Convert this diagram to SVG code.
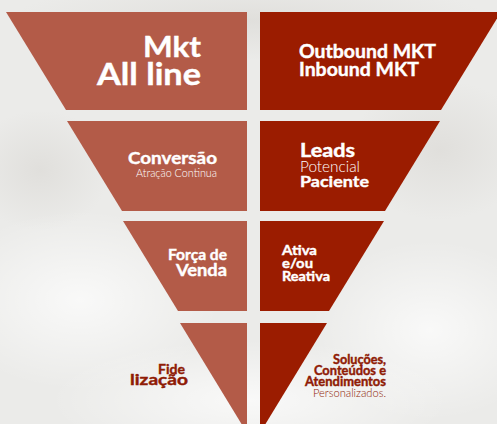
<svg xmlns="http://www.w3.org/2000/svg" width="497" height="424" viewBox="0 0 497 424">
<defs>
<radialGradient id="c1" cx="0.5" cy="0.5" r="0.5"><stop offset="0" stop-color="#ffffff" stop-opacity="0.7"/><stop offset="1" stop-color="#ffffff" stop-opacity="0"/></radialGradient>
<radialGradient id="c2" cx="0.5" cy="0.5" r="0.5"><stop offset="0" stop-color="#d9d7d3" stop-opacity="0.6"/><stop offset="1" stop-color="#d9d7d3" stop-opacity="0"/></radialGradient>
</defs>
<style>
.l{fill:#b35b48}
.r{fill:#9b1c00}
.t{font-family:Lato,"Open Sans","DejaVu Sans",sans-serif;fill:#ffffff;stroke:#ffffff;stroke-width:0.4;font-weight:700}
.lt{font-family:Lato,"Open Sans","DejaVu Sans",sans-serif;fill:#ffffff;font-weight:300}
.d{fill:#8f1b05;stroke:#8f1b05}
.dl{fill:#8f1b05}
</style>
<g id="background">
<rect width="497" height="424" fill="#ebebe9"/>
<ellipse cx="80" cy="300" rx="140" ry="90" fill="url(#c1)"/>
<ellipse cx="430" cy="330" rx="120" ry="90" fill="url(#c1)"/>
<ellipse cx="250" cy="400" rx="200" ry="60" fill="url(#c1)"/>
<ellipse cx="440" cy="150" rx="90" ry="70" fill="url(#c2)"/>
<ellipse cx="40" cy="170" rx="70" ry="60" fill="url(#c2)"/>
<ellipse cx="250" cy="20" rx="240" ry="40" fill="url(#c2)"/>
</g>
<g id="connectors"/>
<g id="left1"><polygon class="l" points="6,12 247,12 247,110 66,110"/>
<text class="t" x="201" y="57" font-size="29" text-anchor="end" textLength="58" lengthAdjust="spacingAndGlyphs">Mkt</text>
<text class="t" x="201" y="85" font-size="30" text-anchor="end" textLength="104" lengthAdjust="spacingAndGlyphs">All line</text></g>
<g id="right1"><polygon class="r" points="260,12 501,12 441,110 260,110"/>
<text class="t" x="299" y="58" font-size="18" textLength="137" lengthAdjust="spacingAndGlyphs">Outbound MKT</text>
<text class="t" x="299" y="76" font-size="18" textLength="120" lengthAdjust="spacingAndGlyphs">Inbound MKT</text></g>
<g id="left2"><polygon class="l" points="67,121 247,121 247,211 122,211"/>
<text class="t" x="217" y="164" font-size="17" text-anchor="end" textLength="89" lengthAdjust="spacingAndGlyphs">Conversão</text>
<text class="lt" x="217" y="177" font-size="11" text-anchor="end" textLength="81" lengthAdjust="spacingAndGlyphs">Atração Continua</text></g>
<g id="right2"><polygon class="r" points="260,121 440,121 385,211 260,211"/>
<text class="t" x="300" y="157" font-size="18" textLength="55" lengthAdjust="spacingAndGlyphs">Leads</text>
<text class="lt" x="300" y="172" font-size="16" textLength="60" lengthAdjust="spacingAndGlyphs">Potencial</text>
<text class="t" x="300" y="187" font-size="16" textLength="69" lengthAdjust="spacingAndGlyphs">Paciente</text></g>
<g id="left3"><polygon class="l" points="123,221 247,221 247,311 178,311"/>
<text class="t" x="227" y="260" font-size="15" text-anchor="end" textLength="59" lengthAdjust="spacingAndGlyphs">Força de</text>
<text class="t" x="227" y="276" font-size="17" text-anchor="end" textLength="51" lengthAdjust="spacingAndGlyphs">Venda</text></g>
<g id="right3"><polygon class="r" points="260,221 384,221 329,311 260,311"/>
<text class="t" x="282" y="255" font-size="14" textLength="35" lengthAdjust="spacingAndGlyphs">Ativa</text>
<text class="t" x="282" y="268" font-size="14" textLength="31" lengthAdjust="spacingAndGlyphs">e/ou</text>
<text class="t" x="282" y="281" font-size="14" textLength="48" lengthAdjust="spacingAndGlyphs">Reativa</text></g>
<g id="left4"><polygon class="l" points="180,323 247,323 247,433"/>
<text class="t d" x="185" y="374" font-size="14" text-anchor="end" textLength="27" lengthAdjust="spacingAndGlyphs">Fide</text>
<text class="t d" x="188" y="385" font-size="15" text-anchor="end" textLength="58" lengthAdjust="spacingAndGlyphs">lização</text></g>
<g id="right4"><polygon class="r" points="260,323 327,323 260,433"/>
<text class="t d" x="386" y="364" font-size="12.5" text-anchor="end" textLength="53" lengthAdjust="spacingAndGlyphs">Soluções,</text>
<text class="t d" x="386" y="375" font-size="12.5" text-anchor="end" textLength="72" lengthAdjust="spacingAndGlyphs">Conteúdos e</text>
<text class="t d" x="386" y="386" font-size="12.5" text-anchor="end" textLength="81" lengthAdjust="spacingAndGlyphs">Atendimentos</text>
<text class="lt dl" x="386" y="397" font-size="12" text-anchor="end" textLength="73" lengthAdjust="spacingAndGlyphs">Personalizados.</text></g>
</svg>
